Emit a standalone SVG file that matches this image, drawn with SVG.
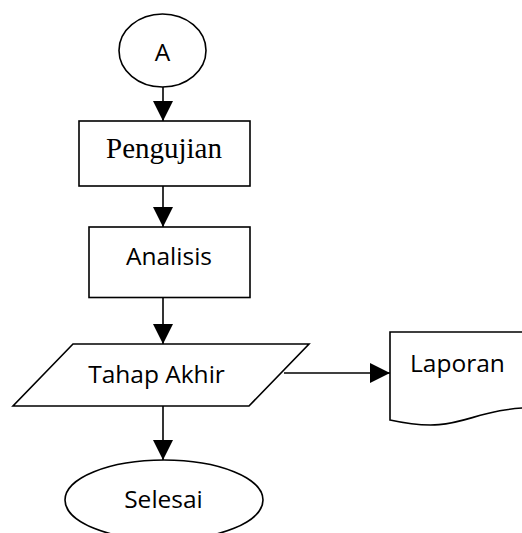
<svg xmlns="http://www.w3.org/2000/svg" width="522" height="533" viewBox="0 0 522 533">
<defs>
<style>
.s{fill:#fff;stroke:#000;stroke-width:1.6}
.t{font-family:"Open Sans","Liberation Sans",sans-serif;font-size:24.5px;fill:#000}
.ts{font-family:"Liberation Serif","Times New Roman",serif;font-size:29px;fill:#000}
.c{fill:none;stroke:#000;stroke-width:1.6}
</style>
<marker id="ah" markerUnits="userSpaceOnUse" markerWidth="20" markerHeight="20" refX="20" refY="10" orient="auto" viewBox="0 0 20 20">
<path d="M0,0 L20,10 L0,20 Z" fill="#000"/>
</marker>
</defs>
<rect width="522" height="533" fill="#fff"/>
<g id="conn">
<line class="c" x1="163" y1="87" x2="163" y2="121" marker-end="url(#ah)"/>
<line class="c" x1="163" y1="186" x2="163" y2="227" marker-end="url(#ah)"/>
<line class="c" x1="163" y1="297.5" x2="163" y2="344" marker-end="url(#ah)"/>
<line class="c" x1="163" y1="406" x2="163" y2="460" marker-end="url(#ah)"/>
<line class="c" x1="284" y1="373" x2="390" y2="373" marker-end="url(#ah)"/>
</g>
<g id="nodeA">
<ellipse class="s" cx="162.5" cy="50.5" rx="43.5" ry="36.5"/>
<text class="t" x="162.5" y="61" text-anchor="middle">A</text>
</g>
<g id="pengujian">
<rect class="s" x="79" y="121" width="171" height="65"/>
<text class="ts" x="164" y="158" text-anchor="middle">Pengujian</text>
</g>
<g id="analisis">
<rect class="s" x="89" y="227" width="161" height="70.5"/>
<text class="t" x="169" y="265" text-anchor="middle">Analisis</text>
</g>
<g id="tahap">
<polygon class="s" points="73,344 309,344 249,406 13,406"/>
<text class="t" x="156.5" y="382.5" text-anchor="middle">Tahap Akhir</text>
</g>
<g id="laporan">
<path class="s" d="M390,332 L539,332 L539,407.5 C464.5,407.5 464.5,436.3 390,420 Z"/>
<text class="t" x="410" y="371.5">Laporan</text>
</g>
<g id="selesai">
<ellipse class="s" cx="164" cy="500" rx="99" ry="40"/>
<text class="t" x="163.5" y="507.5" text-anchor="middle">Selesai</text>
</g>
</svg>
